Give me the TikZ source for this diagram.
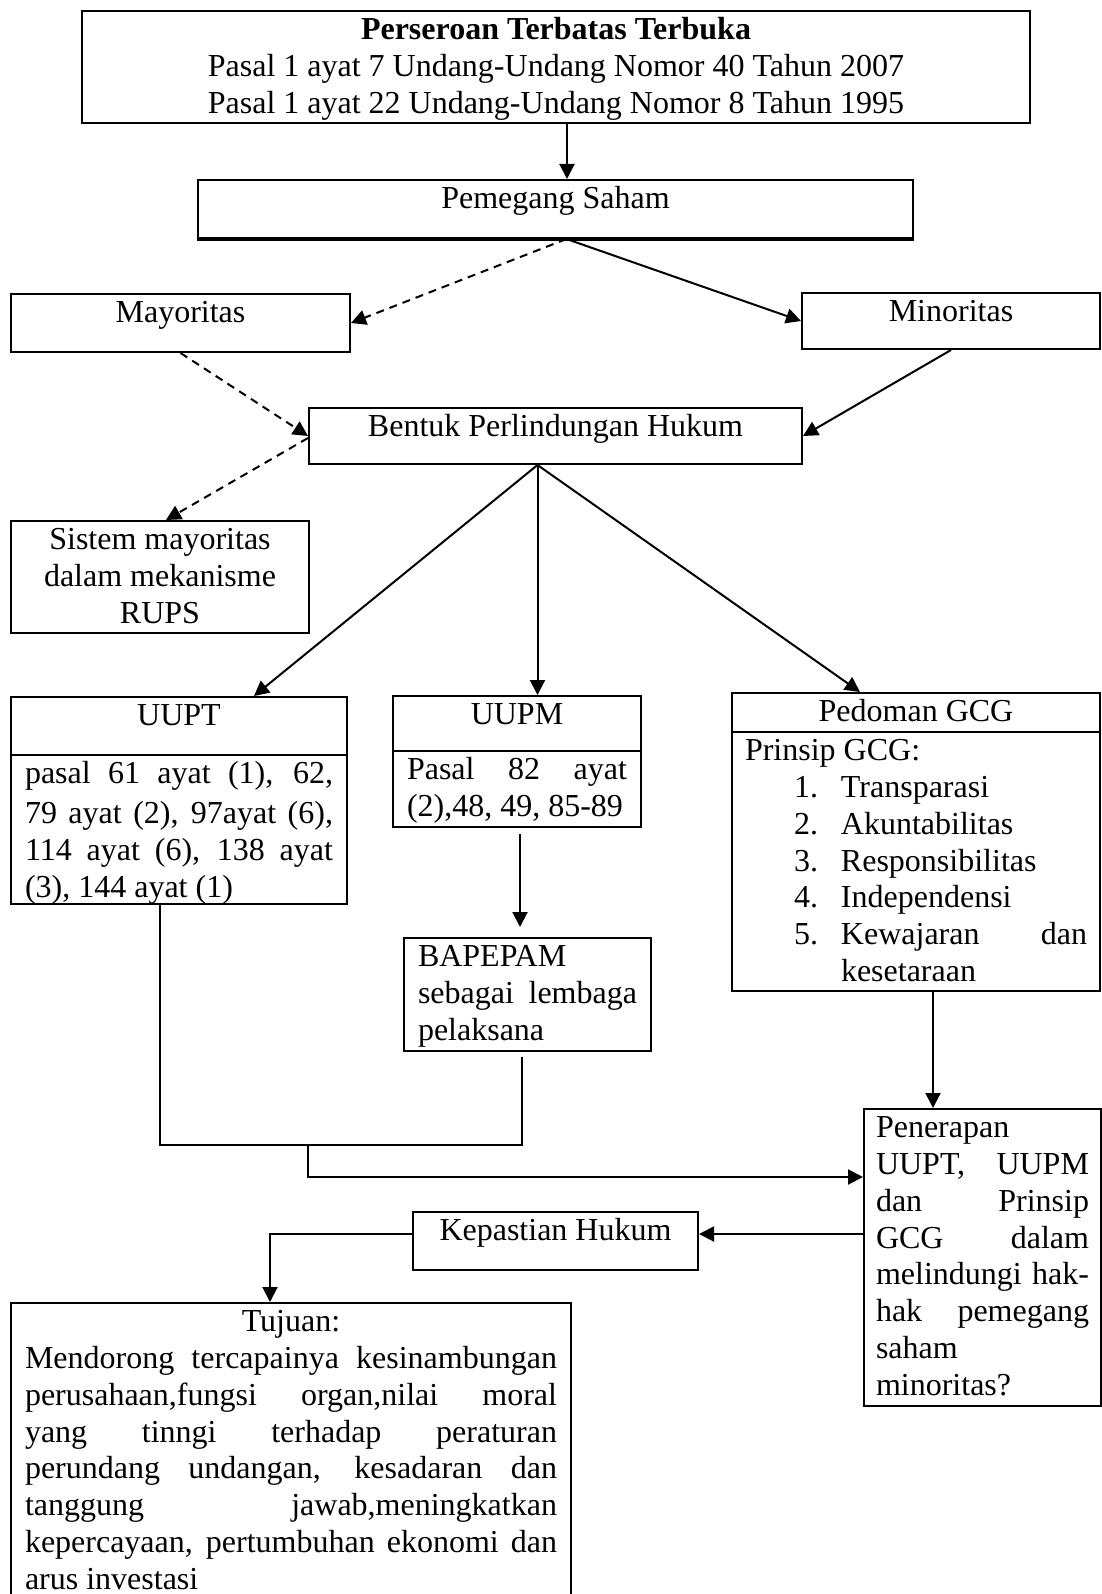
\documentclass[tikz,border=0pt]{standalone}
\usepackage{fontspec}
\setmainfont{Liberation Serif}
\usepackage{tikz}
\usetikzlibrary{arrows.meta, calc}

% isi kotak: lebar, tinggi, teks
\newcommand{\isikotak}[3]{\parbox[c][#2pt][t]{#1pt}{\strut #3}}
\hyphenpenalty=10000
\exhyphenpenalty=10000
\tolerance=10000
\hbadness=10000
\vbadness=10000

\tikzset{
  kotak/.style={draw, line width=2pt, anchor=north west, inner xsep=14pt, inner ysep=3pt,
    font=\fontsize{32}{36.8}\selectfont},
  panah/.style={-{Triangle[length=15pt, width=15pt]}, line width=2pt},
  putus/.style={panah, dash pattern=on 8pt off 6pt},
  garis/.style={line width=2pt},
}

\begin{document}
\begin{tikzpicture}[x=1pt, y=-1pt]
    \useasboundingbox (0,0) rectangle (1101,1594);
    % Baris atas
    \node[kotak] (atas) at (81,10) {\isikotak{920}{106}{\centering
        \textbf{Perseroan Terbatas Terbuka}\\
        Pasal 1 ayat 7 Undang-Undang Nomor 40 Tahun 2007\\
        Pasal 1 ayat 22 Undang-Undang Nomor 8 Tahun 1995}};
    \node[kotak] (pemegang) at (197,179) {\isikotak{687}{52}{\centering Pemegang Saham}};
    \draw[line width=3.5pt] (pemegang.south west) -- (pemegang.south east);
    \node[kotak] (mayoritas) at (10,293) {\isikotak{311}{52}{\centering Mayoritas}};
    \node[kotak] (minoritas) at (801,292) {\isikotak{270}{50}{\centering Minoritas}};
    \node[kotak] (bentuk) at (308,407) {\isikotak{465}{50}{\centering Bentuk Perlindungan Hukum}};
    \node[kotak] (sistem) at (10,520) {\isikotak{270}{106}{\centering
        Sistem mayoritas\\ dalam mekanisme\\ RUPS}};
    % Tiga dasar hukum
    \node[kotak] (uupt) at (10,696) {\isikotak{308}{52}{\centering UUPT}};
    \node[kotak] (uuptisi) at (10,754) {\isikotak{308}{143}{\vspace*{3pt}%
        pasal 61 ayat (1), 62,\linebreak
        79 ayat (2), 97ayat (6),\linebreak
        114 ayat (6), 138 ayat\linebreak
        (3), 144 ayat (1)}};
    \node[kotak] (uupm) at (392,695) {\isikotak{220}{49}{\centering UUPM}};
    \node[kotak] (uupmisi) at (392,750) {\isikotak{220}{70}{%
        Pasal 82 ayat\linebreak
        (2),48, 49, 85-89}};
    \node[kotak] (gcg) at (731,692) {\isikotak{340}{33}{\centering Pedoman GCG}};
    \node[kotak, inner xsep=13pt] (gcgisi) at (731,731) {\isikotak{342}{253}{%
        Prinsip GCG:\par
        \hspace*{49pt}\makebox[47pt][l]{1.}Transparasi\par
        \hspace*{49pt}\makebox[47pt][l]{2.}Akuntabilitas\par
        \hspace*{49pt}\makebox[47pt][l]{3.}Responsibilitas\par
        \hspace*{49pt}\makebox[47pt][l]{4.}Independensi\par
        \hspace*{49pt}\makebox[47pt][l]{5.}Kewajaran\hfill dan\par
        \hspace*{96pt}kesetaraan}};
    \node[kotak] (bapepam) at (403,937) {\isikotak{219}{107}{%
        BAPEPAM\\
        sebagai lembaga\linebreak
        pelaksana}};
    % Penerapan dan tujuan
    \node[kotak, inner xsep=12pt] (penerapan) at (863,1108) {\isikotak{213}{291}{%
        Penerapan\\
        UUPT, UUPM\linebreak
        dan Prinsip\linebreak
        GCG dalam\linebreak
        melindungi hak-\linebreak
        hak pemegang\linebreak
        saham\\
        minoritas?}};
    \node[kotak] (kepastian) at (412,1211) {\isikotak{257}{52}{\centering Kepastian Hukum}};
    \node[kotak] (tujuan) at (10,1302) {\isikotak{532}{290}{%
        {\centering Tujuan:\par}
        Mendorong tercapainya kesinambungan\linebreak
        perusahaan,fungsi organ,nilai moral\linebreak
        yang tinngi terhadap peraturan\linebreak
        perundang undangan, kesadaran dan\linebreak
        tanggung jawab,meningkatkan\linebreak
        kepercayaan, pertumbuhan ekonomi dan\linebreak
        arus investasi}};
    % Panah
    \draw[panah] ([xshift=11pt]atas.south) -- ([xshift=11pt]atas.south |- pemegang.north);
    \coordinate (pecah) at ([xshift=11pt]pemegang.south);
    \draw[putus] (pecah) -- (mayoritas.east);
    \draw[panah] (pecah) -- (minoritas.west);
    \draw[putus] (mayoritas.south) -- (bentuk.west);
    \draw[panah] (minoritas.south) -- (bentuk.east);
    \draw[putus] ([yshift=-2pt]bentuk.west) -- ([xshift=6pt]sistem.north);
    \coordinate (cabang) at ([xshift=-18pt]bentuk.south);
    \draw[panah] (cabang) -- ([xshift=75pt]uupt.north);
    \draw[panah] (cabang) -- (cabang |- uupm.north);
    \draw[panah] (cabang) -- ([xshift=-56pt]gcg.north);
    \draw[panah] ([xshift=3pt, yshift=-6pt]uupmisi.south) -- ([xshift=3pt, yshift=10pt]uupmisi.south |- bapepam.north);
    \draw[panah] ([xshift=17pt]gcgisi.south) -- ([xshift=17pt]gcgisi.south |- penerapan.north);
    % Garis gabungan UUPT dan BAPEPAM
    \coordinate (sambung) at (308,1145);
    \coordinate (belok) at (308,1177);
    \draw[garis] ([xshift=-19pt]uuptisi.south) |- (sambung) -| ([xshift=-6pt, yshift=-5pt]bapepam.south);
    \draw[panah] (sambung) -- (belok) -- (belok -| penerapan.west);
    \draw[panah] ([yshift=7pt]kepastian.east -| penerapan.west) -- ([yshift=7pt]kepastian.east);
    \draw[panah] ([yshift=7pt]kepastian.west) -| ([xshift=-21pt]tujuan.north);
\end{tikzpicture}
\end{document}
